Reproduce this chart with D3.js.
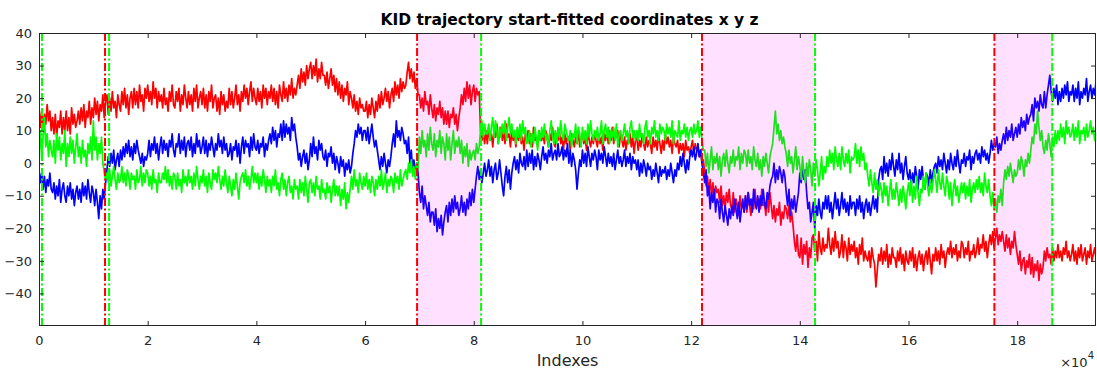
<!DOCTYPE html>
<html><head><meta charset="utf-8">
<script src="https://cdn.jsdelivr.net/npm/d3@7"></script>
<style>body{margin:0;background:#fff;} text{font-family:"DejaVu Sans",sans-serif;}</style>
</head><body>
<svg id="chart" width="1097" height="371"></svg>
<script>
const indexStep = 250;
const xTicks = [0,2,4,6,8,10,12,14,16,18];
const yTicks = [-40,-30,-20,-10,0,10,20,30,40];
const redLines = [12150, 69570, 122000, 175800];
const greenLines = [550, 12900, 81350, 142800, 186450];
const shadedStart = [69570, 122000, 175800];
const shadedEnd = [81350, 142800, 186450];

const seriesX = [
17,11,16,10,15,12,18,13,16,10,14,9,15,8,13,11,16,9,14,10,16,10,14,9,17,12,15,11,13,16,12,17,13,18,11,16,14,19,12,17,
14,20,15,19,13,18,16,21,14,19,21,15,20,16,22,17,19,14,21,18,16,22,18,23,17,21,15,20,22,17,23,18,22,17,24,19,21,16,23,20,
24,19,22,18,25,20,23,17,22,19,21,17,23,18,20,16,22,19,24,18,17,22,19,23,16,21,18,24,20,17,22,18,21,16,23,19,24,17,20,22,
18,23,17,21,16,22,19,24,17,20,21,16,20,15,22,18,21,16,19,17,23,18,22,17,20,24,18,21,16,22,19,24,20,23,18,22,25,19,23,20,
18,23,19,22,17,24,20,23,18,22,20,24,19,23,18,22,17,24,21,19,25,20,23,19,24,21,26,20,23,21,24,27,23,29,25,28,24,30,26,29,
31,26,30,27,32,25,29,26,31,27,27,24,28,23,26,29,24,27,22,26,21,25,20,24,19,23,21,25,18,22,20,17,21,16,19,15,20,17,18,16,
16,19,14,18,15,20,17,14,19,16,21,17,22,18,20,23,19,22,17,21,23,19,25,21,24,20,26,22,25,23,24,28,31,26,29,25,28,23,26,21,
21,17,20,16,22,18,19,15,21,17,14,18,13,17,15,19,14,17,12,16,12,16,11,15,14,17,12,15,10,14,17,21,18,23,19,25,20,24,18,22,
24,19,23,21,22,10,7,9,6,10,6,11,7,9,5,10,8,12,6,9,11,7,10,6,12,8,9,5,10,7,9,5,10,7,11,6,8,4,9,7,
10,6,9,5,11,7,8,5,10,7,7,9,6,10,8,5,9,7,11,6,5,9,7,10,6,8,4,9,6,8,8,4,9,7,5,8,6,10,5,7,
9,6,8,4,10,7,5,8,6,9,7,5,9,6,8,4,9,7,10,6,10,7,11,6,9,8,10,5,9,7,5,8,4,7,6,9,5,8,3,7,
8,4,7,5,9,6,4,8,5,7,6,3,8,5,7,4,9,6,3,7,4,9,6,8,5,7,3,8,6,5,7,3,6,4,6,2,7,4,5,3,
5,7,3,6,4,5,2,4,0,1,-3,-7,-4,-9,-5,-10,-6,-11,-7,-9,-8,-12,-7,-13,-10,-14,-9,-12,-8,-13,-14,-9,-15,-11,-13,-16,-10,-14,-12,-15,
-10,-15,-9,-13,-16,-11,-14,-8,-13,-12,-11,-14,-8,-13,-12,-16,-10,-15,-9,-13,-17,-13,-18,-14,-16,-12,-19,-15,-17,-13,-14,-17,-13,-18,-15,-19,-24,-27,-22,-28,
-29,-23,-31,-25,-28,-24,-32,-26,-29,-23,-22,-27,-24,-30,-21,-26,-28,-23,-27,-25,-26,-20,-25,-28,-23,-27,-21,-26,-24,-29,-27,-22,-29,-24,-26,-30,-23,-28,-25,-27,
-24,-29,-26,-31,-25,-28,-23,-30,-27,-29,-30,-27,-32,-26,-29,-31,-38,-33,-28,-30,-26,-31,-27,-30,-25,-32,-28,-31,-26,-29,-29,-32,-27,-30,-26,-31,-28,-33,-27,-30,
-31,-27,-30,-26,-32,-28,-33,-29,-27,-31,-28,-33,-29,-27,-31,-26,-30,-34,-28,-30,-26,-30,-27,-31,-25,-29,-27,-32,-28,-26,-28,-24,-29,-26,-28,-25,-30,-27,-29,-24,
-25,-29,-26,-28,-24,-30,-27,-28,-25,-29,-27,-23,-28,-25,-26,-22,-27,-24,-29,-25,-22,-25,-21,-26,-23,-20,-25,-22,-24,-21,-24,-27,-22,-26,-23,-28,-24,-26,-21,-25,
-28,-31,-27,-33,-30,-29,-34,-30,-32,-28,-34,-29,-35,-31,-33,-30,-36,-31,-34,-32,-27,-30,-26,-29,-28,-31,-26,-30,-27,-29,-25,-29,-27,-30,-26,-28,-24,-29,-27,-30,
-28,-25,-30,-27,-31,-26,-29,-25,-30,-28,-26,-31,-27,-29,-25,-30,-28,-26,-29
];

const seriesY = [
-2,-6,-3,-8,-4,-9,-5,-7,-3,-8,-9,-6,-11,-7,-10,-5,-12,-8,-6,-10,-12,-7,-10,-6,-11,-8,-13,-9,-7,-11,-8,-12,-6,-10,-7,-11,-5,-9,-12,-7,
-9,-13,-8,-12,-17,-10,-14,-8,-11,-6,-2,2,-1,3,0,4,-2,1,3,-1,4,1,5,2,6,3,7,2,5,1,6,3,7,4,2,0,3,-1,2,1,
3,7,2,6,4,8,3,6,1,5,8,3,7,4,6,2,7,5,9,4,2,6,5,9,3,7,4,8,2,6,7,4,8,2,6,3,9,5,7,3,
5,8,3,7,2,6,4,8,5,2,6,4,9,5,7,3,8,4,6,2,3,6,1,5,4,7,2,6,0,5,8,3,7,5,6,2,8,4,9,5,
4,7,3,6,5,8,2,6,4,7,9,6,11,7,10,5,9,8,12,7,13,8,12,9,11,7,14,10,12,8,5,1,3,-1,2,4,0,3,-2,1,
6,2,8,3,5,1,7,4,6,2,1,4,-1,3,2,5,0,3,-2,2,0,-3,2,-1,1,-4,0,-2,1,-3,-1,3,6,10,8,12,9,11,7,10,
10,7,11,6,9,12,8,5,7,4,1,-2,2,-1,3,0,-3,1,-1,2,6,9,5,13,8,10,7,11,9,6,7,3,8,0,4,-2,1,-4,0,-3,
-9,-12,-7,-14,-10,-13,-16,-12,-18,-15,-15,-19,-14,-21,-17,-20,-16,-22,-18,-15,-13,-18,-12,-16,-11,-15,-10,-14,-12,-16,-14,-10,-15,-12,-16,-11,-14,-9,-13,-8,
-12,-8,-4,-1,-5,-2,-6,-3,0,-4,-2,1,-4,-1,-6,-2,0,-5,-3,1,-3,-7,-10,-4,-1,-6,-2,-8,-3,0,2,-2,1,-3,3,0,-1,2,-2,4,
-1,3,0,4,-2,2,-1,3,1,-2,2,5,1,3,0,4,2,6,1,3,4,1,6,2,3,5,1,4,2,6,0,4,-1,3,1,-2,-8,-3,1,-1,
4,0,3,-1,5,2,-1,3,1,4,2,-2,4,1,3,0,5,2,-1,3,0,2,-1,3,-2,1,4,0,2,-1,1,4,-1,2,0,3,-2,2,0,1,
-2,1,-4,0,-3,1,-1,-4,0,-2,-1,-5,-2,-4,0,-3,-6,-1,-4,-2,-3,-1,-5,-2,-4,0,-3,-6,-2,-4,0,-2,2,-1,3,0,-3,1,-2,2,
4,2,5,1,3,6,2,4,0,-3,-6,-2,-10,-7,-14,-9,-12,-8,-15,-11,-12,-17,-11,-15,-18,-13,-16,-19,-14,-17,-13,-16,-11,-14,-17,-12,-18,-14,-11,-15,
-10,-14,-9,-13,-11,-15,-8,-12,-14,-10,-15,-10,-13,-8,-12,-14,-9,-11,-7,-5,-4,0,-6,-2,-5,-1,-3,-6,-2,-4,-9,-13,-8,-16,-11,-14,-10,-15,-12,-9,
-3,-6,-1,-5,-2,-9,-14,-12,-18,-15,-12,-20,-13,-16,-11,-15,-17,-12,-14,-10,-14,-10,-15,-12,-17,-13,-9,-14,-11,-16,-13,-9,-14,-11,-15,-12,-16,-10,-14,-12,
-12,-16,-11,-14,-10,-15,-12,-17,-13,-11,-15,-12,-16,-13,-10,-14,-11,-15,-5,-2,-1,-5,2,-3,0,-4,1,-2,3,-1,-4,1,-2,3,-3,0,-5,-1,2,-3,
-5,-2,-7,-3,-6,-1,-4,-8,-2,-5,-1,-5,-8,-3,-4,-7,-2,-6,-3,-1,0,-3,2,-1,1,-2,3,0,-3,1,-2,3,0,-2,2,-1,4,0,-3,1,
0,3,-1,2,1,4,-2,2,0,3,4,1,3,0,5,2,4,1,3,0,3,7,4,6,5,8,3,6,4,7,9,6,11,7,10,8,12,7,9,11,
8,12,9,14,11,13,10,15,12,14,15,18,13,20,17,19,16,21,18,17,22,17,21,24,27,22,19,23,20,24,18,22,19,23,20,24,21,25,19,22,
21,24,19,23,20,25,18,22,20,23,21,26,19,22,24,20,23,21,25
];

const seriesZ = [
3,10,1,8,14,5,9,2,7,4,2,7,0,9,4,8,1,6,3,10,-1,6,2,8,3,7,0,5,9,2,5,0,7,2,4,-1,6,3,8,1,
13,4,8,1,6,3,8,0,-3,-5,-3,-6,-2,-7,-4,-1,-5,-8,-3,-6,-5,-1,-6,-3,-7,-2,-4,-8,-3,-5,-4,-8,-2,-6,-5,-1,-7,-3,-6,-2,
-3,-7,-4,-8,-2,-6,-5,-9,-3,-6,-6,-3,-5,-1,-6,-2,-7,-4,-8,-3,-4,-8,-3,-7,-5,-9,-2,-6,-4,-7,-2,-6,-4,-8,-3,-7,-1,-5,-8,-4,
-6,-2,-7,-4,-9,-3,-6,-8,-2,-5,-3,-6,-1,-5,-8,-4,-7,-2,-6,-9,-4,-7,-10,-5,-8,-3,-7,-11,-6,-4,-3,-6,-2,-7,-4,-8,-5,-1,-6,-3,
-6,-3,-8,-4,-7,-2,-5,-9,-4,-7,-5,-9,-4,-7,-2,-8,-6,-10,-5,-3,-8,-5,-10,-6,-4,-9,-7,-11,-5,-8,-7,-11,-5,-9,-6,-10,-4,-8,-12,-6,
-5,-9,-6,-10,-4,-8,-7,-11,-5,-9,-8,-11,-6,-9,-7,-12,-8,-5,-10,-7,-10,-7,-13,-8,-11,-6,-14,-9,-12,-8,-4,-8,-2,-7,-5,-9,-3,-6,-8,-4,
-7,-3,-8,-5,-9,-4,-6,-10,-5,-8,-4,-7,-2,-8,-6,-3,-9,-5,-7,-4,-5,-9,-3,-6,-4,-8,-2,-7,-5,-3,-2,-5,0,-3,1,-4,-1,-5,0,-2,
8,3,10,5,7,2,9,4,11,6,4,9,2,7,5,10,3,8,6,1,9,4,8,1,6,10,3,7,5,8,3,7,0,5,2,6,-1,4,1,3,
4,1,6,3,5,10,13,8,12,9,9,12,7,11,14,8,13,10,6,11,8,12,9,13,7,11,14,9,12,8,10,6,11,8,12,7,13,9,11,6,
7,10,5,9,6,11,8,4,10,7,11,8,12,7,9,5,10,13,8,6,10,6,11,8,13,9,7,12,10,8,7,10,5,9,8,12,6,11,9,5,
11,7,10,6,12,8,13,9,7,10,8,11,7,9,13,6,10,12,8,11,6,10,8,11,7,12,5,9,10,7,9,12,8,10,6,11,13,8,10,7,
10,7,12,8,9,6,11,13,8,10,6,11,9,13,8,10,7,12,9,11,10,7,12,9,11,8,13,6,10,9,8,13,7,10,9,12,8,11,7,10,
11,8,12,9,10,13,8,11,7,4,4,-1,3,-3,1,5,-2,2,0,3,-2,2,-4,1,3,-1,4,0,-3,2,0,4,-1,2,1,5,-2,3,0,4,
3,-1,4,0,2,-2,5,1,-1,3,-2,1,-4,2,-1,3,0,-3,2,4,6,11,16,9,12,7,10,6,8,5,3,-1,4,0,2,-3,1,5,-2,2,
-1,-5,2,-3,-6,0,-4,1,-2,-7,0,-4,1,-2,-7,-3,2,-5,-1,-3,2,-1,4,0,3,-2,5,1,-1,3,-2,5,1,-1,3,0,4,-3,2,1,
2,6,0,4,-1,5,1,3,-2,0,-4,-7,-2,-6,-9,-3,-8,-5,-10,-6,-8,-12,-6,-10,-7,-13,-9,-5,-11,-8,-11,-6,-9,-13,-8,-12,-7,-10,-14,-9,
-6,-10,-5,-12,-7,-11,-4,-9,-13,-8,-9,-4,-8,-3,-7,-10,-5,-9,-6,-2,-5,-9,-2,-6,-8,-3,-7,-10,-4,-6,-11,-6,-13,-8,-5,-10,-7,-12,-9,-6,
-9,-6,-11,-7,-10,-5,-12,-8,-6,-9,-5,-8,-4,-9,-6,-10,-3,-7,-9,-5,-10,-13,-9,-14,-11,-15,-10,-12,-8,-13,-6,-2,-5,-1,-4,0,-3,-6,-2,-4,
-3,1,-2,2,0,-4,1,-1,3,0,4,8,6,12,9,16,11,7,10,5,3,7,4,9,6,2,8,5,10,6,10,7,12,8,11,6,13,9,11,8,
9,12,7,11,8,13,6,10,9,11,7,12,8,10,13,9,11,7,10
];

const W = 1097, H = 371;
const m = {left: 39, top: 33, right: 1096, bottom: 326};
const svg = d3.select("#chart");

const x = d3.scaleLinear().domain([0, 194500]).range([m.left, m.right]);
const y = d3.scaleLinear().domain([-50, 40]).range([m.bottom, m.top]);

svg.append("defs").append("clipPath").attr("id","clip")
  .append("rect").attr("x", m.left).attr("y", m.top)
  .attr("width", m.right - m.left).attr("height", m.bottom - m.top);

const plot = svg.append("g").attr("clip-path","url(#clip)");

const line = d3.line().x((d,i) => x(i*indexStep)).y(d => y(d));
[[seriesX,"#ff0000"],[seriesY,"#0000ff"],[seriesZ,"#00ff00"]].forEach(([data,col]) => {
  plot.append("path").datum(data).attr("d", line)
    .attr("fill","none").attr("stroke", col).attr("stroke-width", 1.7)
    .attr("stroke-linejoin","round");
});

shadedStart.forEach((s,i) => {
  plot.append("rect").attr("x", x(s)).attr("y", m.top)
    .attr("width", x(shadedEnd[i]) - x(s)).attr("height", m.bottom - m.top)
    .attr("fill", "#ff00ff").attr("fill-opacity", 0.12);
});

function vline(v, col) {
  plot.append("line").attr("x1", x(v)).attr("x2", x(v))
    .attr("y1", m.top).attr("y2", m.bottom)
    .attr("stroke", col).attr("stroke-width", 2)
    .attr("stroke-dasharray", "8,2.5,2,2.5");
}
redLines.forEach(v => vline(v, "#ff0000"));
greenLines.forEach(v => vline(v, "#00ff00"));

const axCol = "#262626";
svg.append("rect").attr("x", m.left + 0.5).attr("y", m.top + 0.5)
  .attr("width", m.right - m.left - 1).attr("height", m.bottom - m.top - 1)
  .attr("fill","none").attr("stroke", axCol).attr("stroke-width", 1);

const xb = svg.append("g").attr("transform", `translate(0,${m.bottom})`)
  .call(d3.axisBottom(x).tickValues(xTicks.map(t => t*1e4)).tickFormat(d => d/1e4).tickSize(-5).tickPadding(10));
const xt = svg.append("g").attr("transform", `translate(0,${m.top})`)
  .call(d3.axisTop(x).tickValues(xTicks.map(t => t*1e4)).tickFormat("").tickSize(-5));
const yl = svg.append("g").attr("transform", `translate(${m.left},0)`)
  .call(d3.axisLeft(y).tickValues(yTicks).tickSize(-5).tickPadding(7));
const yr = svg.append("g").attr("transform", `translate(${m.right},0)`)
  .call(d3.axisRight(y).tickValues(yTicks).tickFormat("").tickSize(-5));
[xb,xt,yl,yr].forEach(g => {
  g.select(".domain").remove();
  g.selectAll(".tick line").attr("stroke", axCol);
  g.selectAll("text").attr("fill", axCol).style("font-size","13px").style("font-family","DejaVu Sans");
});

svg.append("text").attr("x", (m.left + m.right)/2 + 2).attr("y", 25)
  .attr("text-anchor","middle").style("font-size","15.5px").style("font-weight","bold")
  .attr("fill","#000").text("KID trajectory start-fitted coordinates x y z");

svg.append("text").attr("x", (m.left + m.right)/2).attr("y", 366)
  .attr("text-anchor","middle").style("font-size","16px").attr("fill", axCol).text("Indexes");

const ex = svg.append("text").attr("x", 1094).attr("y", 367).attr("text-anchor","end")
  .style("font-size","13px").attr("fill", axCol);
ex.append("tspan").text("×10");
ex.append("tspan").attr("dy", -8).style("font-size","10px").text("4");
</script>
</body></html>
